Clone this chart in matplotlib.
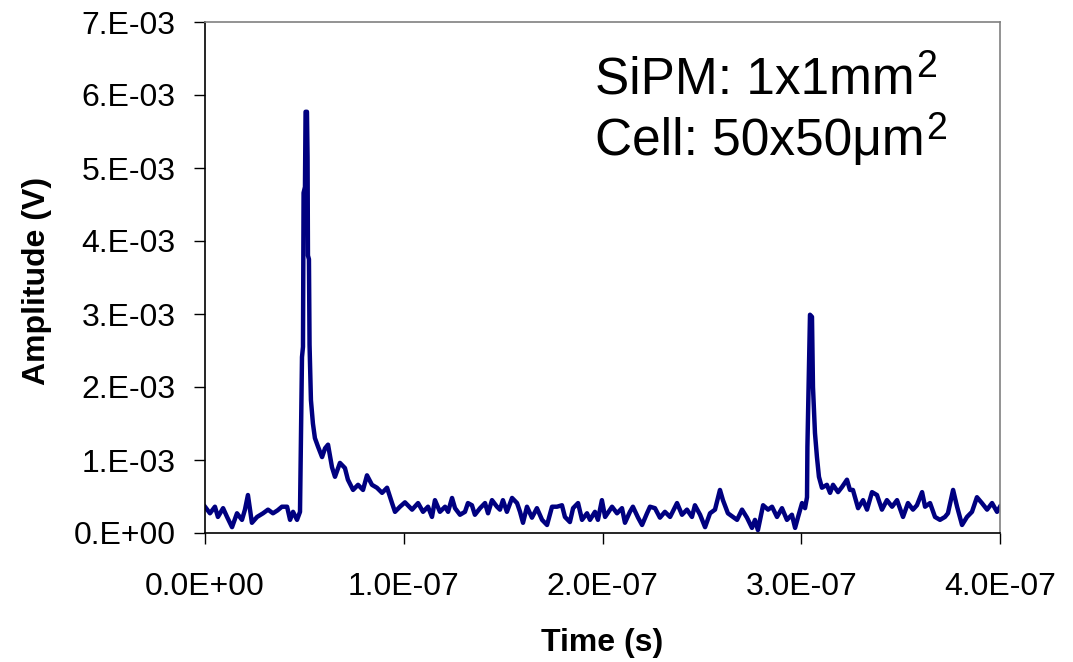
import matplotlib
matplotlib.use("Agg")
import matplotlib.pyplot as plt
from matplotlib.ticker import FuncFormatter, MultipleLocator
import numpy as np

plt.rcParams['font.family'] = ['Liberation Sans', 'DejaVu Sans']

# scope trace, time in ns, amplitude in mV
t_base1 = [0, 2.5, 5.0, 6.5, 9.1, 11.1, 13.6, 16.1, 18.6, 20.1,
           21.6, 23.6, 26.2, 29.2, 31.7, 34.2, 36.5, 38.7, 41.3, 42.8,
           44.3, 46.3, 47.8]
v_base1 = [0.36, 0.27, 0.36, 0.22, 0.34, 0.22, 0.08, 0.27, 0.18, 0.32,
           0.52, 0.14, 0.22, 0.27, 0.32, 0.27, 0.31, 0.36, 0.36, 0.18,
           0.29, 0.18, 0.29]

t_pulse1 = [48.0, 48.8, 49.3, 49.6, 50.3, 50.6, 51.3, 51.6, 51.8, 52.3,
            52.6, 53.3, 54.3, 55.3, 56.9, 58.9, 60.4, 61.9, 63.9, 65.4,
            67.9, 70.4, 71.9, 74.5, 77.0, 79.5, 81.5, 84.0, 86.5, 89.1,
            91.6, 94.1, 95.6, 98.1, 100.6]
v_pulse1 = [0.73, 2.41, 2.55, 4.66, 4.74, 5.77, 5.77, 5.15, 3.80, 3.75,
            2.58, 1.82, 1.50, 1.30, 1.18, 1.04, 1.16, 1.21, 0.90, 0.77,
            0.96, 0.89, 0.73, 0.59, 0.66, 0.59, 0.79, 0.66, 0.62, 0.55,
            0.62, 0.41, 0.29, 0.36, 0.42]

t_base2 = [104.2, 107.2, 109.7, 112.2, 114.2, 115.7, 118.2, 120.8, 122.3, 124.3,
           125.8, 128.3, 130.8, 132.3, 134.3, 135.8, 138.4, 140.9, 142.4, 144.4,
           146.9, 148.4, 149.9, 151.9, 154.5, 157.0, 158.5, 160.0, 162.0, 164.5,
           167.0, 169.6, 172.1, 174.6, 177.1, 179.6, 181.1, 183.6, 185.2, 187.7,
           189.7, 192.2, 193.7, 196.2, 197.7, 199.7, 201.3]
v_base2 = [0.32, 0.41, 0.29, 0.36, 0.22, 0.45, 0.29, 0.36, 0.29, 0.48,
           0.34, 0.25, 0.29, 0.41, 0.38, 0.25, 0.34, 0.41, 0.27, 0.45,
           0.36, 0.32, 0.45, 0.29, 0.48, 0.41, 0.29, 0.14, 0.36, 0.21,
           0.34, 0.18, 0.11, 0.36, 0.36, 0.38, 0.22, 0.15, 0.34, 0.41,
           0.18, 0.27, 0.18, 0.29, 0.18, 0.45, 0.22]

t_base3 = [204.8, 207.3, 209.8, 211.3, 213.8, 215.3, 217.9, 219.9, 222.4, 223.9,
           226.4, 228.9, 231.4, 234.0, 237.5, 240.0, 242.5, 245.0, 246.5, 249.1,
           251.6, 254.1, 256.6, 259.1, 260.6, 263.1, 265.7, 267.7, 270.2, 272.7,
           275.2, 276.7, 278.2, 280.8, 283.3, 285.3, 287.8, 290.3, 292.8, 295.3,
           296.9, 298.4, 300.4, 301.9, 302.9]
v_base3 = [0.36, 0.27, 0.34, 0.14, 0.29, 0.36, 0.21, 0.11, 0.27, 0.36,
           0.34, 0.21, 0.29, 0.22, 0.41, 0.25, 0.32, 0.22, 0.38, 0.25,
           0.08, 0.27, 0.32, 0.59, 0.45, 0.27, 0.22, 0.18, 0.32, 0.21,
           0.07, 0.18, 0.04, 0.38, 0.32, 0.36, 0.22, 0.34, 0.18, 0.25,
           0.07, 0.22, 0.41, 0.34, 0.49]

t_pulse2 = [303.1, 303.9, 304.4, 305.4, 305.9, 306.9, 307.9, 308.9, 310.4, 312.9,
            314.5, 316.0, 318.5, 320.5, 323.0, 324.5, 326.0, 328.6, 331.1, 333.1,
            335.6, 338.1, 340.6, 343.1, 345.7, 348.2, 351.2, 353.7, 356.2, 358.2,
            360.8, 362.3, 364.8, 367.3, 369.8, 372.3, 373.8, 376.4, 378.4, 380.9,
            383.4, 385.9, 388.4, 390.9, 393.5, 396.0, 398.5, 400.0]
v_pulse2 = [1.18, 2.33, 2.99, 2.96, 2.00, 1.37, 1.04, 0.77, 0.62, 0.66,
            0.55, 0.66, 0.56, 0.63, 0.73, 0.59, 0.59, 0.34, 0.45, 0.32,
            0.56, 0.52, 0.32, 0.45, 0.36, 0.45, 0.22, 0.41, 0.32, 0.38,
            0.56, 0.36, 0.41, 0.22, 0.18, 0.22, 0.27, 0.59, 0.36, 0.11,
            0.22, 0.29, 0.49, 0.41, 0.32, 0.41, 0.29, 0.36]

info_lines = ['SiPM: 1x1mm', 'Cell: 50x50μm']

t = np.array(t_base1 + t_pulse1 + t_base2 + t_base3 + t_pulse2) * 1e-9
v = np.array(v_base1 + v_pulse1 + v_base2 + v_base3 + v_pulse2) * 1e-3

fig = plt.figure(figsize=(10.73, 6.62), dpi=100)
ax = fig.add_axes([205/1073, 1-533/662, 795/1073, 511/662])

ax.plot(t, v, color='#000080', lw=3.2, solid_joinstyle='round')

ax.set_xlim(0, 4e-7)
ax.set_ylim(0, 7e-3)
ax.xaxis.set_major_locator(MultipleLocator(1e-7))
ax.yaxis.set_major_locator(MultipleLocator(1e-3))
ax.xaxis.set_major_formatter(FuncFormatter(lambda x, _: f"{x:.1E}"))
ax.yaxis.set_major_formatter(FuncFormatter(lambda y, _: f"{y:#.0E}"))
ax.tick_params(axis='both', direction='out', length=8, width=1, labelsize=23)
ax.tick_params(axis='y', pad=13)
ax.tick_params(axis='x', pad=20)

for s in ['top', 'right']:
    ax.spines[s].set_color('#808080')
    ax.spines[s].set_linewidth(1.2)
for s in ['left', 'bottom']:
    ax.spines[s].set_color('black')
    ax.spines[s].set_linewidth(1.2)

fig.text(37/1073, 1-281/662, 'Amplitude (V)', rotation=90, fontsize=23,
         fontweight='bold', ha='center', va='center')
fig.text(602/1073, 1-643/662, 'Time (s)', fontsize=23, fontweight='bold',
         ha='center', va='center')

# info box text, superscript 2 placed by hand after each line
renderer = fig.canvas.get_renderer()
for i, line in enumerate(info_lines):
    base_y = 93 + 62 * i
    txt = fig.text(595/1073, 1-base_y/662, line, fontsize=37,
                   ha='left', va='baseline')
    bb = txt.get_window_extent(renderer)
    fig.text((bb.x1 + 1)/1073, 1-(base_y-16)/662, '2', fontsize=27,
             ha='left', va='baseline')

fig.savefig('out.png', dpi=100)
